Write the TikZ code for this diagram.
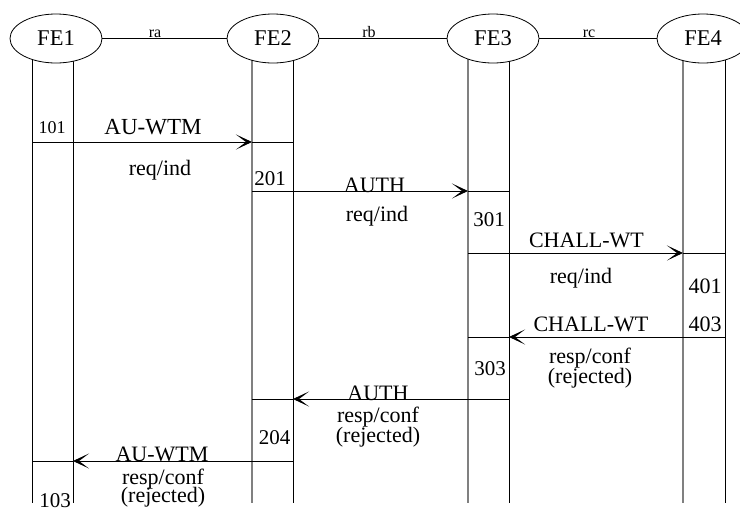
\documentclass[tikz,border=0pt]{standalone}
\usepackage{fontspec}
\setmainfont{Liberation Serif}
\usetikzlibrary{shapes.geometric,arrows.meta}
\begin{document}
\begin{tikzpicture}[x=1pt,y=-1pt,
  fe/.style={ellipse,draw,line width=0.8pt,fill=white,minimum width=92pt,minimum height=49pt,inner sep=0pt,font=\fontsize{22.5}{22.5}\selectfont},
  life/.style={line width=0.9pt},
  lifeg/.style={line width=1.2pt,draw=black!50},
  msg/.style={line width=0.9pt},
  tip/.style={-{Stealth[length=16pt,width=15pt,inset=10pt]}},
  lbl/.style={anchor=base,inner sep=0pt,font=\fontsize{22}{22}\selectfont},
  num/.style={anchor=base,inner sep=0pt,font=\fontsize{21}{21}\selectfont},
  sm/.style={anchor=base,inner sep=0pt,font=\fontsize{16}{16}\selectfont},
]
\useasboundingbox (0,0) rectangle (740,509);
% lifeline coordinates
\coordinate (L1t) at (32,50);  \coordinate (L1b) at (32,503);
\coordinate (R1t) at (73,50);  \coordinate (R1b) at (73,503);
\coordinate (L2t) at (252,50); \coordinate (L2b) at (252,503);
\coordinate (R2t) at (293,50); \coordinate (R2b) at (293,503);
\coordinate (L3t) at (468,50); \coordinate (L3b) at (468,503);
\coordinate (R3t) at (509,50); \coordinate (R3b) at (509,503);
\coordinate (L4t) at (683,50); \coordinate (L4b) at (683,503);
\coordinate (R4t) at (725,50); \coordinate (R4b) at (725,503);
\draw[life] (L1t) -- (L1b);
\draw[life] (R1t) -- (R1b);
\draw[lifeg] (L2t) -- (L2b);
\draw[life] (R2t) -- (R2b);
\draw[lifeg] (L3t) -- (L3b);
\draw[life] (R3t) -- (R3b);
\draw[lifeg] (L4t) -- (L4b);
\draw[life] (R4t) -- (R4b);
% entities
\node[fe] (fe1) at (56,38.5) {FE1};
\node[fe] (fe2) at (273,38.5) {FE2};
\node[fe] (fe3) at (493,38.5) {FE3};
\node[fe] (fe4) at (703,38.5) {FE4};
\draw[line width=0.8pt] (fe1) -- (fe2);
\draw[line width=0.8pt] (fe2) -- (fe3);
\draw[line width=0.8pt] (fe3) -- (fe4);
\node[sm] (ra) at (155,37) {ra};
\node[sm] (rb) at (369,37) {rb};
\node[sm] (rc) at (589,37) {rc};
% message rows
\coordinate (m1) at (0,142);
\coordinate (m2) at (0,191);
\coordinate (m3) at (0,253);
\coordinate (m4) at (0,337);
\coordinate (m5) at (0,399);
\coordinate (m6) at (0,461);
% 1
\draw[msg] (L2t |- m1) -- (R2t |- m1);
\draw[msg,tip] (L1t |- m1) -- (L2t |- m1);
\node[num,font=\fontsize{18}{18}\selectfont] (n101) at (52,133.5) {101};
\node[lbl,font=\fontsize{23}{23}\selectfont] (t1a) at (153,134) {AU-WTM};
\node[lbl] (t1b) at (160,175) {req/ind};
% 2
\draw[msg] (L3t |- m2) -- (R3t |- m2);
\draw[msg,tip] (L2t |- m2) -- (L3t |- m2);
\node[num] (n201) at (270,185) {201};
\node[lbl] (t2a) at (374.5,192.5) {AUTH};
\node[lbl] (t2b) at (377,221) {req/ind};
% 3
\draw[msg] (L4t |- m3) -- (R4t |- m3);
\draw[msg,tip] (L3t |- m3) -- (L4t |- m3);
\node[num] (n301) at (489,226) {301};
\node[lbl] (t3a) at (586.5,247.5) {CHALL-WT};
\node[lbl] (t3b) at (581,283) {req/ind};
% 4
\node[num,font=\fontsize{22}{22}\selectfont] (n401) at (705,293) {401};
\node[num,font=\fontsize{22}{22}\selectfont] (n403) at (705,331) {403};
\draw[msg] (L3t |- m4) -- (R3t |- m4);
\draw[msg,tip] (R4t |- m4) -- (R3t |- m4);
\node[lbl] (t4a) at (591,331) {CHALL-WT};
\node[lbl] (t4b) at (590,363.5) {resp/conf};
\node[lbl] (t4c) at (590,383.5) {(rejected)};
\node[num] (n303) at (490,375) {303};
% 5
\draw[msg] (L2t |- m5) -- (R2t |- m5);
\draw[msg,tip] (R3t |- m5) -- (R2t |- m5);
\node[lbl] (t5a) at (378,400) {AUTH};
\node[lbl] (t5b) at (378,422.5) {resp/conf};
\node[lbl] (t5c) at (378,442.5) {(rejected)};
\node[num] (n204) at (274.5,444) {204};
% 6
\draw[msg] (L1t |- m6) -- (R1t |- m6);
\draw[msg,tip] (R2t |- m6) -- (R1t |- m6);
\node[lbl] (t6a) at (162,461.5) {AU-WTM};
\node[lbl] (t6b) at (163,484.5) {resp/conf};
\node[lbl] (t6c) at (163,502.5) {(rejected)};
\node[num] (n103) at (55,507.5) {103};
\end{tikzpicture}
\end{document}
